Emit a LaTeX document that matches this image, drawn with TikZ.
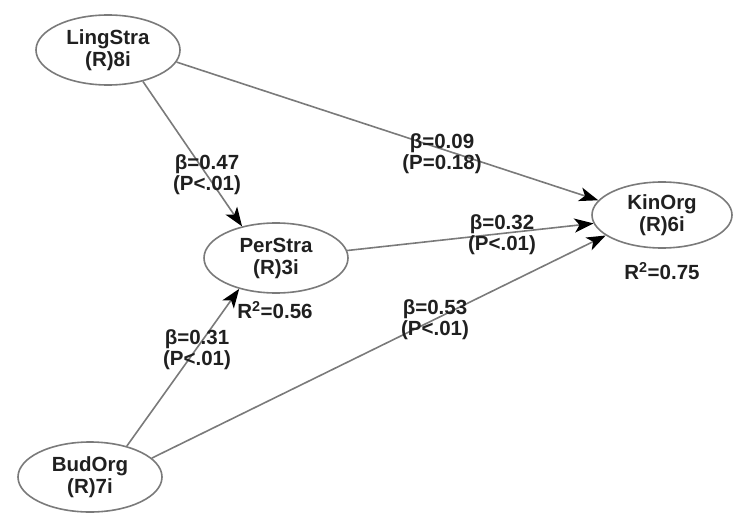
\documentclass[tikz,border=0pt]{standalone}
\usepackage{fontspec}
\setmainfont{Liberation Sans}
\usetikzlibrary{shapes.geometric,arrows.meta}
\definecolor{edgegray}{HTML}{7A7A7A}
\definecolor{txt}{HTML}{202020}
\begin{document}
\begin{tikzpicture}[x=1pt,y=-1pt,
  latent/.style={ellipse,draw=edgegray,line width=1.6pt,minimum width=144pt,minimum height=70pt,inner sep=0pt,align=center,text=txt,font=\fontsize{20.5}{22}\selectfont\bfseries},
  lbl/.style={align=center,text=txt,inner sep=0pt,font=\fontsize{20.5}{21}\selectfont\bfseries},
  path/.style={draw=edgegray,line width=1.6pt,-{Stealth[length=19pt,width=14pt,inset=5pt,black]}}]
\useasboundingbox (0,0) rectangle (735,513);
\node[latent] (ling) at (108,50) {LingStra\\(R)8i};
\node[latent] (per) at (276,258) {PerStra\\(R)3i};
\node[latent,minimum width=140pt,minimum height=66pt] (kin) at (662,215) {KinOrg\\(R)6i};
\node[latent] (bud) at (90,477) {BudOrg\\(R)7i};
\draw[path] (ling.350) -- (kin.167);
\draw[path] (ling.318) -- (per.137);
\draw[path] (bud.40) -- (per.220);
\draw[path] (bud.17) -- (kin.200);
\draw[path] (per.6) -- (kin.187);
\node[lbl] (l1) at (207,175) {β=0.47\\(P<.01)};
\node[lbl] (l2) at (442,154) {β=0.09\\(P=0.18)};
\node[lbl] (l3) at (502,235) {β=0.32\\(P<.01)};
\node[lbl] (l4) at (435,320) {β=0.53\\(P<.01)};
\node[lbl] (l5) at (197,350) {β=0.31\\(P<.01)};
\node[lbl] (r1) at (275,310) {R\textsuperscript{2}=0.56};
\node[lbl] (r2) at (662,271) {R\textsuperscript{2}=0.75};
\end{tikzpicture}
\end{document}
